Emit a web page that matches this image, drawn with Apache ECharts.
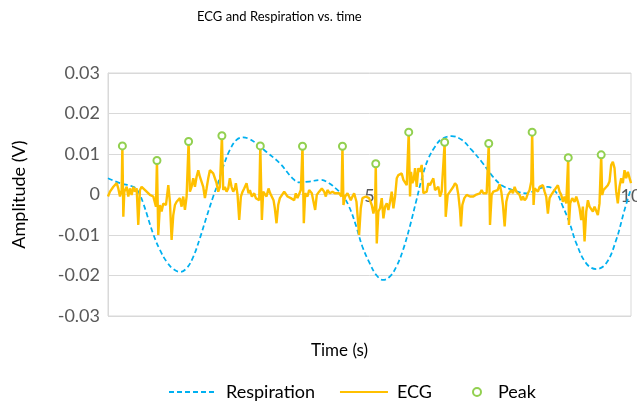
<!DOCTYPE html>
<html>
<head>
<meta charset="utf-8">
<script src="https://cdn.jsdelivr.net/npm/echarts@6/dist/echarts.min.js"></script>
<style>
html,body{margin:0;padding:0;background:#fff;}
#chart{width:637px;height:403px;}
</style>
</head>
<body>
<div id="chart"></div>
<script>
// Chart texts
const chartTitle = 'ECG and Respiration vs. time';
const xTitle = 'Time (s)';
const yTitle = 'Amplitude (V)';
const seriesNames = ['Respiration', 'ECG', 'Peak'];

// Axis ranges / ticks
const xMin = 0, xMax = 10, xStep = 5;
const yMin = -0.03, yMax = 0.03, yStep = 0.01;

// Respiration [time (s), amplitude (V)]
const respiration = [
  [0,0.0040],[0.229,0.0028],[0.484,0.0019],[0.579,0.0007],[0.675,-0.0022],[0.866,-0.0098],
  [0.993,-0.0137],[1.121,-0.0166],[1.248,-0.0184],[1.375,-0.0191],[1.503,-0.0182],[1.630,-0.0154],
  [1.757,-0.0108],[1.885,-0.0055],[2.012,-0.0005],[2.108,0.0030],[2.203,0.0069],[2.330,0.0110],
  [2.458,0.0135],[2.585,0.0141],[2.700,0.0137],[2.827,0.0127],[3.031,0.0105],[3.286,0.0077],
  [3.528,0.0040],[3.655,0.0030],[3.846,0.0032],[4.069,0.0036],[4.228,0.0028],[4.355,0.0015],
  [4.483,-0.0001],[4.610,-0.0030],[4.737,-0.0075],[4.865,-0.0129],[5.005,-0.0170],[5.132,-0.0199],
  [5.259,-0.0211],[5.387,-0.0203],[5.515,-0.0178],[5.641,-0.0137],[5.769,-0.0080],[5.897,-0.0014],
  [6.023,0.0050],[6.126,0.0089],[6.252,0.0118],[6.380,0.0137],[6.571,0.0144],[6.762,0.0135],
  [6.953,0.0110],[7.144,0.0081],[7.335,0.0048],[7.526,0.0023],[7.743,0.0011],[7.998,0.0003],
  [8.252,0.0015],[8.411,0.0019],[8.571,0.0005],[8.698,-0.0030],[8.825,-0.0070],[8.953,-0.0120],
  [9.144,-0.0170],[9.335,-0.0184],[9.526,-0.0170],[9.717,-0.0112],[9.876,-0.0038],[10,0.0015]
];

// ECG [time (s), amplitude (V)]
const ecg = [
  [0,-0.0005],[0.038,0.0007],[0.102,0.0019],[0.166,0.0028],[0.197,0.0015],[0.229,-0.0005],[0.261,0.0011],
  [0.275,0.0120],[0.293,-0.0055],[0.312,0.0007],[0.357,0.0019],[0.388,-0.0005],[0.420,0.0015],[0.452,-0.0001],
  [0.484,0.0019],[0.516,0.0007],[0.548,0.0015],[0.579,-0.0075],[0.611,0.0011],[0.643,0.0019],[0.675,0.0015],
  [0.739,0.0007],[0.802,-0.0001],[0.866,-0.0005],[0.917,-0.0030],[0.936,0.0084],[0.961,-0.0100],[0.993,-0.0026],
  [1.025,-0.0042],[1.057,-0.0022],[1.108,-0.0026],[1.153,0.0023],[1.184,-0.0018],[1.216,-0.0112],[1.248,-0.0051],
  [1.280,-0.0026],[1.312,-0.0018],[1.375,-0.0009],[1.407,-0.0030],[1.439,-0.0005],[1.471,-0.0038],[1.503,-0.0005],
  [1.541,0.0131],[1.566,0.0007],[1.598,0.0019],[1.630,0.0040],[1.662,0.0019],[1.694,0.0044],[1.726,0.0060],
  [1.757,0.0044],[1.789,0.0040],[1.821,0.0019],[1.853,-0.0009],[1.885,0.0015],[1.917,0.0040],[1.948,0.0060],
  [1.980,0.0056],[2.012,0.0052],[2.044,0.0056],[2.076,0.0028],[2.108,0.0007],[2.139,0.0019],[2.178,0.0145],
  [2.203,0.0011],[2.235,0.0019],[2.267,0.0007],[2.299,0.0015],[2.330,0.0040],[2.362,0.0019],[2.394,0.0007],
  [2.426,0.0015],[2.445,0.0028],[2.477,-0.0001],[2.509,-0.0063],[2.541,-0.0005],[2.573,0.0007],[2.604,0.0015],
  [2.649,0.0028],[2.687,0.0003],[2.713,0.0011],[2.751,-0.0005],[2.796,0.0003],[2.827,-0.0009],[2.859,-0.0005],
  [2.891,-0.0014],[2.912,0.0120],[2.942,-0.0063],[2.967,0.0007],[3.005,0.0011],[3.031,-0.0005],[3.069,0.0015],
  [3.101,0.0003],[3.133,0.0007],[3.165,-0.0014],[3.190,-0.0034],[3.222,-0.0071],[3.254,-0.0026],[3.286,-0.0009],
  [3.324,-0.0005],[3.369,0.0007],[3.400,0.0003],[3.432,-0.0005],[3.464,-0.0001],[3.496,-0.0009],[3.528,-0.0005],
  [3.560,-0.0014],[3.591,0.0003],[3.623,-0.0009],[3.655,-0.0005],[3.687,0.0011],[3.719,0.0119],[3.744,-0.0071],
  [3.770,0.0003],[3.814,-0.0005],[3.846,0.0011],[3.897,0.0003],[3.929,0.0003],[3.961,-0.0038],[3.992,-0.0001],
  [4.037,0.0007],[4.088,0.0015],[4.133,0.0007],[4.165,-0.0005],[4.196,0.0011],[4.241,0.0003],[4.292,0.0007],
  [4.337,0.0003],[4.375,-0.0001],[4.419,0.0003],[4.464,-0.0005],[4.483,0.0119],[4.502,-0.0026],[4.534,-0.0005],
  [4.579,0.0003],[4.610,-0.0005],[4.642,-0.0014],[4.674,-0.0005],[4.706,0.0003],[4.751,-0.0018],[4.801,-0.0100],
  [4.833,-0.0034],[4.865,-0.0009],[4.929,-0.0005],[4.992,-0.0009],[5.043,-0.0026],[5.075,-0.0047],[5.107,-0.0026],
  [5.120,0.0076],[5.139,-0.0121],[5.170,-0.0042],[5.202,-0.0034],[5.234,-0.0009],[5.266,-0.0059],[5.298,-0.0030],
  [5.330,-0.0022],[5.361,-0.0038],[5.393,-0.0018],[5.425,0.0007],[5.457,-0.0034],[5.489,-0.0005],[5.521,0.0040],
  [5.552,0.0048],[5.584,0.0044],[5.616,0.0052],[5.648,0.0036],[5.680,0.0032],[5.712,0.0023],[5.750,0.0154],
  [5.775,-0.0005],[5.794,0.0056],[5.820,0.0028],[5.845,0.0036],[5.871,0.0065],[5.903,0.0019],[5.934,0.0065],
  [5.966,0.0056],[5.998,0.0073],[6.030,0.0003],[6.062,-0.0001],[6.093,0.0007],[6.125,0.0028],[6.157,0.0023],
  [6.189,0.0032],[6.221,0.0040],[6.253,0.0011],[6.284,0.0007],[6.316,0.0019],[6.348,-0.0005],[6.380,0.0007],
  [6.412,0.0003],[6.437,0.0129],[6.457,-0.0055],[6.495,-0.0001],[6.539,0.0007],[6.571,0.0007],[6.603,0.0019],
  [6.635,0.0028],[6.667,0.0023],[6.699,-0.0001],[6.730,-0.0038],[6.749,-0.0079],[6.775,-0.0026],[6.813,-0.0009],
  [6.858,-0.0001],[6.890,0.0003],[6.921,-0.0005],[6.953,-0.0001],[6.985,-0.0005],[7.030,-0.0001],[7.068,-0.0005],
  [7.112,0.0003],[7.144,0.0011],[7.176,0.0003],[7.208,0.0007],[7.240,0.0003],[7.280,0.0126],[7.304,-0.0075],
  [7.335,-0.0001],[7.367,0.0007],[7.399,0.0003],[7.450,0.0011],[7.488,0.0025],[7.520,0.0007],[7.552,-0.0026],
  [7.584,-0.0079],[7.616,-0.0018],[7.647,-0.0001],[7.679,-0.0005],[7.711,0.0011],[7.743,0.0003],[7.775,0.0019],
  [7.807,0.0007],[7.838,0.0003],[7.870,-0.0001],[7.902,-0.0014],[7.934,-0.0005],[7.966,-0.0014],[7.998,-0.0009],
  [8.029,0.0003],[8.061,0.0011],[8.093,0.0032],[8.110,0.0154],[8.137,-0.0026],[8.157,0.0015],[8.188,0.0019],
  [8.220,0.0007],[8.252,0.0019],[8.284,0.0015],[8.316,0.0023],[8.348,0.0007],[8.379,-0.0005],[8.411,-0.0047],
  [8.443,-0.0009],[8.475,-0.0001],[8.507,-0.0005],[8.539,0.0011],[8.571,0.0007],[8.602,0.0023],[8.634,0.0007],
  [8.666,-0.0001],[8.698,-0.0018],[8.730,-0.0005],[8.762,-0.0022],[8.800,0.0091],[8.813,-0.0075],[8.838,-0.0022],
  [8.876,-0.0009],[8.921,-0.0018],[8.953,-0.0005],[8.985,-0.0018],[9.016,-0.0034],[9.048,-0.0063],[9.080,-0.0030],
  [9.112,-0.0116],[9.144,-0.0042],[9.176,-0.0014],[9.207,-0.0030],[9.239,-0.0026],[9.271,-0.0042],[9.303,-0.0030],
  [9.335,-0.0034],[9.366,-0.0051],[9.398,-0.0022],[9.430,0.0098],[9.449,-0.0001],[9.475,0.0011],[9.513,0.0015],
  [9.557,0.0023],[9.589,0.0032],[9.621,0.0073],[9.653,0.0081],[9.685,0.0065],[9.717,0.0007],[9.748,-0.0022],
  [9.780,0.0019],[9.812,0.0040],[9.844,0.0028],[9.876,0.0060],[9.908,0.0040],[9.940,0.0056],[9.971,0.0060],
  [10,0.0028]
];

// Detected R-peaks
const peakTimes = [0.275, 0.936, 1.541, 2.178, 2.912, 3.719, 4.483, 5.120, 5.750, 6.437, 7.280, 8.110, 8.800, 9.430];
const peakValues = [0.0120, 0.0084, 0.0131, 0.0145, 0.0120, 0.0119, 0.0119, 0.0076, 0.0154, 0.0129, 0.0126, 0.0154, 0.0091, 0.0098];

const FONT = 'Lato';
const peaks = peakTimes.map((t, i) => [t, peakValues[i]]);

const gridTop = 73, gridBottom = 87, chartH = 403;
const plotH = chartH - gridTop - gridBottom;
// place the x axis where y = 0 (axis crosses at zero)
const xAxisOffset = -plotH * (0 - yMin) / (yMax - yMin);

const legendText = {fontFamily: FONT, fontSize: 18, color: '#000', padding: [0, 0, 0, 4]};

const chart = echarts.init(document.getElementById('chart'), null, {renderer: 'canvas'});
chart.setOption({
  animation: false,
  backgroundColor: '#ffffff',
  textStyle: {fontFamily: FONT},
  title: [
    {text: chartTitle, left: 192, textAlign: 'left', top: 5,
     textStyle: {fontFamily: FONT, fontSize: 13, fontWeight: 'normal', color: '#000'}},
    {text: xTitle, left: 306, textAlign: 'left', top: 337,
     textStyle: {fontFamily: FONT, fontSize: 17, fontWeight: 'normal', color: '#000'}}
  ],
  legend: [
    {
      left: 163, top: 378,
      itemWidth: 48, itemHeight: 8, itemGap: 24,
      textStyle: legendText,
      data: [
        {name: seriesNames[0], itemStyle: {opacity: 0}},
        {name: seriesNames[1], itemStyle: {opacity: 0}}
      ]
    },
    {
      left: 467, top: 378,
      itemWidth: 8, itemHeight: 8,
      textStyle: {fontFamily: FONT, fontSize: 18, color: '#000', padding: [0, 0, 0, 12]},
      data: [seriesNames[2]]
    }
  ],
  grid: {left: 108, right: 6, top: gridTop, bottom: gridBottom, show: true, borderColor: '#d9d9d9', borderWidth: 1,
         containLabel: false, outerBoundsMode: 'none'},
  xAxis: {
    type: 'value', min: xMin, max: xMax, interval: xStep, position: 'bottom', offset: xAxisOffset,
    axisLine: {show: true, onZero: false, lineStyle: {color: '#d9d9d9', width: 1}},
    axisTick: {show: false},
    splitLine: {show: false},
    axisLabel: {show: true, showMinLabel: false, margin: -7, fontFamily: FONT, fontSize: 18, color: '#595959'}
  },
  yAxis: {
    type: 'value', min: yMin, max: yMax, interval: yStep,
    name: yTitle, nameLocation: 'middle', nameGap: 80, nameRotate: 90,
    nameTextStyle: {fontFamily: FONT, fontSize: 18, color: '#000'},
    axisLine: {show: true, onZero: false, lineStyle: {color: '#d9d9d9', width: 1}},
    axisTick: {show: false},
    splitLine: {show: true, lineStyle: {color: '#d9d9d9', width: 1}},
    axisLabel: {margin: 8, fontFamily: FONT, fontSize: 18, color: '#595959',
      formatter: v => Math.abs(v) < 1e-9 ? '0' : v.toFixed(2)}
  },
  series: [
    {name: seriesNames[0], type: 'line', data: respiration, smooth: 0.4, symbol: 'none',
     lineStyle: {color: '#00B0F0', width: 1.75, type: [5, 3]}, itemStyle: {color: '#00B0F0'}, z: 2},
    {name: seriesNames[1], type: 'line', data: ecg, symbol: 'none',
     lineStyle: {color: '#FFC000', width: 2.4}, itemStyle: {color: '#FFC000'}, z: 3},
    {name: seriesNames[2], type: 'scatter', data: peaks, symbol: 'circle', symbolSize: 7,
     itemStyle: {color: '#ffffff', borderColor: '#92D050', borderWidth: 2, opacity: 1}, z: 4}
  ]
});
</script>
</body>
</html>
